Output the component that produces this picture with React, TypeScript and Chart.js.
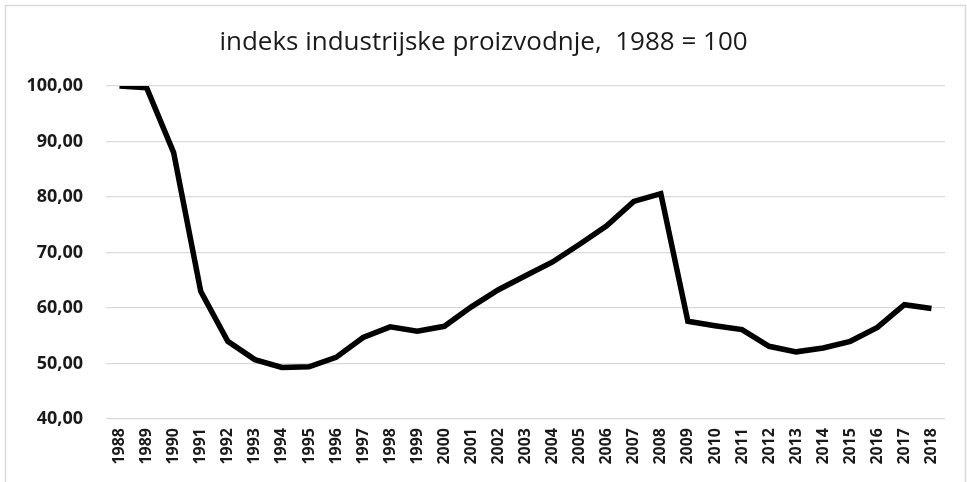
import React, { useEffect, useRef } from "react";
import { Chart, registerables } from "chart.js";

Chart.register(...registerables);

const years: string[] = [
  "1988", "1989", "1990", "1991", "1992", "1993", "1994", "1995", "1996", "1997",
  "1998", "1999", "2000", "2001", "2002", "2003", "2004", "2005", "2006", "2007",
  "2008", "2009", "2010", "2011", "2012", "2013", "2014", "2015", "2016", "2017", "2018",
];

const indexValues: number[] = [
  100.0, 99.7, 88.0, 63.0, 54.0, 50.7, 49.3, 49.4, 51.1, 54.7,
  56.6, 55.8, 56.7, 60.2, 63.3, 65.8, 68.3, 71.5, 74.8, 79.2,
  80.6, 57.6, 56.8, 56.1, 53.1, 52.1, 52.8, 54.0, 56.5, 60.6, 59.9,
];

const titleText = "indeks industrijske proizvodnje,  1988 = 100";

const frame = {
  id: "frame",
  beforeDraw(chart: any) {
    const ctx = chart.ctx;
    ctx.save();
    ctx.fillStyle = "#ffffff";
    ctx.fillRect(0, 0, chart.width, chart.height);
    ctx.strokeStyle = "#d9d9d9";
    ctx.lineWidth = 1.5;
    ctx.beginPath();
    ctx.moveTo(5.5, chart.height);
    ctx.lineTo(5.5, 5.5);
    ctx.lineTo(965.5, 5.5);
    ctx.lineTo(965.5, chart.height);
    ctx.stroke();
    ctx.restore();
  },
};

export default function App() {
  const ref = useRef<HTMLCanvasElement | null>(null);
  useEffect(() => {
    if (!ref.current) return;
    const chart = new Chart(ref.current, {
      type: "line",
      data: {
        labels: years,
        datasets: [
          {
            data: indexValues,
            borderColor: "#000000",
            borderWidth: 5.5,
            pointRadius: 0,
            tension: 0,
            fill: false,
            yAxisID: "y",
          },
        ],
      },
      options: {
        animation: false,
        responsive: false,
        maintainAspectRatio: false,
        layout: { padding: { left: 11, right: 11, top: 0, bottom: 0 } },
        plugins: {
          legend: { display: false },
          tooltip: { enabled: false },
          title: {
            display: true,
            text: titleText,
            color: "#1a1a1a",
            font: { family: "Open Sans", size: 26, weight: "normal", lineHeight: 1.2 },
            padding: { top: 27.4, bottom: 27.4 },
          },
        },
        scales: {
          x: {
            offset: true,
            grid: { display: false, drawTicks: false },
            border: { display: false },
            ticks: {
              color: "#1a1a1a",
              font: { family: "Open Sans", size: 16, weight: "bold" },
              minRotation: 90,
              maxRotation: 90,
              autoSkip: false,
              padding: 9,
            },
            afterFit: (scale: any) => {
              scale.height = 63;
            },
          },
          y: {
            min: 40,
            max: 100,
            grid: { color: "#d9d9d9", lineWidth: 1.2, drawTicks: false },
            border: { display: false },
            ticks: {
              stepSize: 10,
              color: "#1a1a1a",
              font: { family: "Open Sans", size: 18, weight: "bold" },
              padding: 23,
              callback: (v: any) => Number(v).toFixed(2).replace(".", ","),
            },
            afterFit: (scale: any) => {
              scale.width = 95;
            },
          },
          yRight: {
            position: "right",
            display: true,
            min: 40,
            max: 100,
            grid: { display: false, drawTicks: false },
            border: { display: false },
            ticks: { display: false },
            afterFit: (scale: any) => {
              scale.width = 11;
            },
          },
        },
      },
      plugins: [frame],
    });
    return () => chart.destroy();
  }, []);
  return (
    <div style={{ position: "fixed", left: 0, top: 0, width: 967, height: 482, background: "#fff" }}>
      <canvas ref={ref} width={967} height={482} style={{ width: 967, height: 482, display: "block" }} />
    </div>
  );
}
